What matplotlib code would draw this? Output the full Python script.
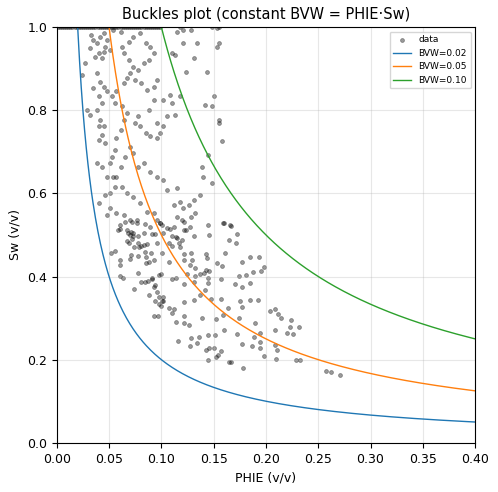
import matplotlib.pyplot as plt
import numpy as np

# points (PHIE, Sw)
phie = [0.160, 0.167, 0.172, 0.165, 0.171, 0.161, 0.185, 0.193, 0.177, 0.198, 0.195, 0.188, 0.181, 0.174, 0.185, 0.177, 0.170,
        0.192, 0.185, 0.175, 0.177, 0.204, 0.209, 0.212, 0.214, 0.224, 0.223, 0.232, 0.220, 0.226, 0.209, 0.190, 0.194, 0.189,
        0.194, 0.187, 0.194, 0.198, 0.209, 0.211, 0.210, 0.229, 0.233, 0.257, 0.262, 0.271, 0.178, 0.177, 0.172, 0.174, 0.157,
        0.164, 0.159, 0.152, 0.160, 0.151, 0.157, 0.150, 0.146, 0.143, 0.154, 0.152, 0.145, 0.165, 0.167, 0.145, 0.136, 0.128,
        0.134, 0.127, 0.116, 0.114, 0.122, 0.126, 0.139, 0.122, 0.110, 0.112, 0.107, 0.100, 0.102, 0.098, 0.094, 0.093, 0.097,
        0.122, 0.131, 0.137, 0.142, 0.147, 0.145, 0.145, 0.141, 0.146, 0.143, 0.137, 0.132, 0.125, 0.122, 0.131, 0.132, 0.127,
        0.129, 0.128, 0.122, 0.122, 0.143, 0.144, 0.153, 0.158, 0.157, 0.107, 0.114, 0.110, 0.100, 0.098, 0.102, 0.101, 0.098,
        0.096, 0.093, 0.094, 0.091, 0.088, 0.091, 0.087, 0.084, 0.081, 0.074, 0.078, 0.060, 0.063, 0.052, 0.056, 0.060, 0.060,
        0.070, 0.071, 0.078, 0.085, 0.088, 0.085, 0.093, 0.090, 0.084, 0.079, 0.081, 0.083, 0.086, 0.078, 0.074, 0.069, 0.072,
        0.067, 0.070, 0.073, 0.071, 0.068, 0.060, 0.060, 0.065, 0.072, 0.077, 0.084, 0.078, 0.091, 0.094, 0.096, 0.101, 0.099,
        0.101, 0.105, 0.108, 0.112, 0.110, 0.114, 0.120, 0.115, 0.117, 0.118, 0.110, 0.107, 0.122, 0.127, 0.131, 0.122, 0.146,
        0.033, 0.035, 0.038, 0.032, 0.041, 0.045, 0.048, 0.046, 0.051, 0.040, 0.037, 0.043, 0.045, 0.027, 0.024, 0.038, 0.041,
        0.035, 0.045, 0.048, 0.040, 0.043, 0.038, 0.029, 0.032, 0.041, 0.040, 0.045, 0.043, 0.040, 0.046, 0.038, 0.043, 0.051,
        0.048, 0.054, 0.053, 0.056, 0.057, 0.061, 0.064, 0.067, 0.062, 0.056, 0.053, 0.057, 0.064, 0.067, 0.070, 0.073, 0.069,
        0.064, 0.062, 0.069, 0.073, 0.080, 0.085, 0.089, 0.093, 0.088, 0.083, 0.078, 0.075, 0.081, 0.086, 0.093, 0.096, 0.093,
        0.088, 0.078, 0.075, 0.080, 0.085, 0.089, 0.096, 0.099, 0.096, 0.102, 0.105, 0.113, 0.110, 0.102, 0.108, 0.118, 0.124,
        0.110, 0.113, 0.121, 0.131, 0.134, 0.144, 0.155, 0.153, 0.142, 0.148, 0.150, 0.155, 0.155, 0.158, 0.145, 0.139, 0.140,
        0.148, 0.137, 0.131, 0.126, 0.121, 0.118, 0.112, 0.115, 0.105, 0.102, 0.096, 0.089, 0.083, 0.078, 0.073, 0.070, 0.065,
        0.061, 0.057, 0.062, 0.067, 0.073, 0.080, 0.086, 0.093, 0.096, 0.099, 0.102, 0.089, 0.083, 0.077, 0.070, 0.064, 0.057,
        0.051, 0.048, 0.046, 0.040, 0.051, 0.056, 0.059, 0.067, 0.073, 0.115, 0.120, 0.124, 0.128, 0.132, 0.145, 0.159, 0.166,
        0.061, 0.054, 0.115, 0.121, 0.128, 0.153]
sw = [0.529, 0.522, 0.502, 0.488, 0.481, 0.457, 0.447, 0.447, 0.435, 0.423, 0.413, 0.411, 0.404, 0.401, 0.385, 0.375, 0.382,
      0.344, 0.344, 0.341, 0.327, 0.317, 0.322, 0.310, 0.300, 0.296, 0.279, 0.279, 0.264, 0.262, 0.272, 0.288, 0.264, 0.255,
      0.243, 0.233, 0.228, 0.209, 0.236, 0.224, 0.202, 0.200, 0.200, 0.173, 0.171, 0.163, 0.180, 0.238, 0.262, 0.300, 0.346,
      0.324, 0.308, 0.298, 0.272, 0.260, 0.221, 0.228, 0.228, 0.224, 0.212, 0.207, 0.200, 0.195, 0.195, 0.260, 0.255, 0.252,
      0.240, 0.233, 0.245, 0.291, 0.288, 0.284, 0.300, 0.305, 0.312, 0.322, 0.324, 0.329, 0.341, 0.334, 0.341, 0.305, 0.305,
      0.339, 0.344, 0.356, 0.368, 0.346, 0.385, 0.397, 0.409, 0.413, 0.416, 0.406, 0.401, 0.406, 0.382, 0.387, 0.421, 0.428,
      0.440, 0.457, 0.454, 0.440, 0.454, 0.445, 0.433, 0.425, 0.394, 0.435, 0.397, 0.394, 0.406, 0.404, 0.351, 0.341, 0.351,
      0.363, 0.375, 0.380, 0.397, 0.356, 0.394, 0.389, 0.387, 0.387, 0.370, 0.409, 0.401, 0.397, 0.457, 0.462, 0.440, 0.428,
      0.442, 0.452, 0.450, 0.447, 0.435, 0.433, 0.440, 0.457, 0.459, 0.471, 0.474, 0.476, 0.478, 0.481, 0.471, 0.481, 0.490,
      0.486, 0.500, 0.498, 0.507, 0.505, 0.514, 0.524, 0.531, 0.531, 0.529, 0.526, 0.498, 0.502, 0.502, 0.481, 0.457, 0.529,
      0.524, 0.517, 0.514, 0.519, 0.498, 0.495, 0.488, 0.493, 0.481, 0.471, 0.474, 0.481, 0.512, 0.519, 0.498, 0.531, 0.500,
      0.981, 0.969, 0.961, 0.949, 0.977, 0.985, 0.969, 0.953, 0.945, 0.937, 0.929, 0.925, 0.941, 0.913, 0.885, 0.889, 0.869,
      0.853, 0.857, 0.845, 0.833, 0.817, 0.801, 0.801, 0.789, 0.777, 0.761, 0.761, 0.741, 0.729, 0.721, 0.672, 0.664, 0.672,
      0.640, 0.640, 0.688, 0.704, 0.733, 0.753, 0.777, 0.793, 0.809, 0.817, 0.833, 0.845, 0.865, 0.877, 0.889, 0.905, 0.921,
      0.937, 0.953, 0.965, 0.977, 0.985, 0.961, 0.953, 0.937, 0.921, 0.913, 0.897, 0.873, 0.865, 0.849, 0.857, 0.873, 0.825,
      0.801, 0.785, 0.769, 0.761, 0.745, 0.737, 0.733, 0.745, 0.769, 0.761, 0.785, 0.789, 0.817, 0.825, 0.837, 0.833, 0.893,
      0.937, 0.933, 0.961, 0.925, 0.961, 0.893, 0.961, 0.953, 0.813, 0.809, 0.833, 0.777, 0.769, 0.725, 0.692, 0.664, 0.640,
      0.624, 0.596, 0.584, 0.572, 0.564, 0.580, 0.572, 0.612, 0.608, 0.632, 0.640, 0.652, 0.672, 0.664, 0.696, 0.712, 0.688,
      0.664, 0.640, 0.616, 0.600, 0.592, 0.576, 0.556, 0.552, 0.536, 0.528, 0.504, 0.520, 0.504, 0.536, 0.536, 0.548, 0.552,
      0.564, 0.548, 0.596, 0.576, 0.600, 0.616, 0.512, 0.512, 0.504, 0.544, 0.536, 0.512, 0.544, 0.552, 0.524, 0.528, 0.524,
      0.989, 0.993, 0.989, 0.993, 0.993, 0.997]

# points clipped at Sw = 1
top_phie = [0.001, 0.003, 0.005, 0.007, 0.009, 0.011, 0.013, 0.015, 0.017, 0.019, 0.021, 0.023, 0.025, 0.027, 0.029,
            0.031, 0.033, 0.035, 0.037, 0.039, 0.041, 0.043, 0.045, 0.047, 0.049, 0.051, 0.053, 0.055, 0.057, 0.059,
            0.061, 0.063, 0.065, 0.067, 0.069, 0.071, 0.073, 0.075, 0.077, 0.079, 0.081, 0.083, 0.085, 0.087, 0.089,
            0.091, 0.093, 0.095, 0.097, 0.099, 0.118, 0.148, 0.155]
top_sw = [1.0] * len(top_phie)

bvw_levels = [0.02, 0.05, 0.10]
colors = ['#1f77b4', '#ff7f0e', '#2ca02c']

plt.rcParams['font.size'] = 9
fig, ax = plt.subplots(figsize=(4.98, 4.92), dpi=100)
fig.subplots_adjust(left=0.114, right=0.954, top=0.945, bottom=0.1)
ax.scatter(phie + top_phie, sw + top_sw, s=8, c='black', alpha=0.4, linewidths=0.5, label='data')
x = np.linspace(0.001, 0.4, 500)
for b, c in zip(bvw_levels, colors):
    ax.plot(x, b / x, color=c, lw=1, label=f'BVW={b:.2f}')
ax.set_xlim(0, 0.4)
ax.set_ylim(0, 1)
ax.set_xlabel('PHIE (v/v)')
ax.set_ylabel('Sw (v/v)')
ax.set_title('Buckles plot (constant BVW = PHIE·Sw)', fontsize=10.5)
ax.grid(True, alpha=0.3)
ax.legend(loc='upper right', fontsize=6.5)
fig.savefig('out.png', dpi=100)
